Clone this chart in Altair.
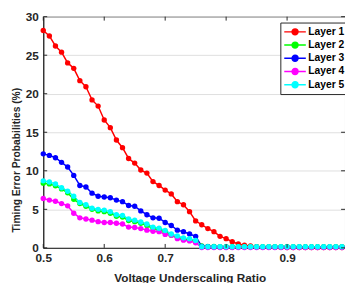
import altair as alt
import pandas as pd

ratios = [round(0.50 + 0.01 * i, 2) for i in range(50)]

layer1 = [28.2, 27.5, 26.2, 25.4, 24.0, 23.3, 21.7, 20.9, 19.2, 18.4,
          16.6, 15.6, 14.0, 13.0, 11.6, 11.0, 10.1, 9.7, 8.6, 8.1,
          7.5, 7.0, 6.0, 5.6, 4.7, 3.5, 3.0, 2.5, 2.1, 1.5,
          1.2, 0.8, 0.5, 0.35, 0.25, 0.15, 0.1, 0.08, 0.07, 0.06,
          0.05, 0.05, 0.05, 0.05, 0.05, 0.05, 0.05, 0.05, 0.05, 0.05]
layer2 = [8.4, 8.3, 8.05, 7.65, 7.15, 6.3, 5.75, 5.4, 5.0, 4.8,
          4.7, 4.5, 4.1, 4.0, 3.55, 3.4, 3.2, 2.9, 2.5, 2.35,
          2.1, 1.65, 1.4, 1.15, 1.05, 0.8, 0.25, 0.2, 0.18, 0.15,
          0.15, 0.15, 0.15, 0.15, 0.15, 0.15, 0.15, 0.15, 0.15, 0.15,
          0.15, 0.15, 0.15, 0.15, 0.15, 0.15, 0.15, 0.15, 0.15, 0.15]
layer3 = [12.2, 12.0, 11.7, 11.1, 10.5, 9.4, 8.1, 7.9, 7.1, 6.7,
          6.6, 6.5, 6.2, 6.0, 5.5, 5.4, 4.8, 4.3, 3.9, 3.85,
          3.3, 2.9, 2.3, 2.1, 1.8, 1.5, 0.2, 0.15, 0.12, 0.1,
          0.1, 0.1, 0.1, 0.1, 0.1, 0.1, 0.1, 0.1, 0.1, 0.1,
          0.1, 0.1, 0.1, 0.1, 0.1, 0.1, 0.1, 0.1, 0.1, 0.1]
layer4 = [6.4, 6.2, 6.05, 5.75, 5.45, 4.5, 3.9, 3.75, 3.6, 3.4,
          3.3, 3.3, 3.2, 3.1, 2.7, 2.65, 2.5, 2.3, 2.15, 2.1,
          1.75, 1.65, 1.2, 1.0, 0.9, 0.65, 0.05, 0.05, 0.05, 0.05,
          0.05, 0.05, 0.05, 0.05, 0.05, 0.05, 0.05, 0.05, 0.05, 0.05,
          0.05, 0.05, 0.05, 0.05, 0.05, 0.05, 0.05, 0.05, 0.05, 0.05]
layer5 = [8.7, 8.55, 8.3, 7.8, 7.35, 6.7, 5.9, 5.6, 5.15, 5.0,
          4.9, 4.7, 4.3, 4.2, 3.75, 3.6, 3.35, 3.1, 2.7, 2.55,
          2.25, 1.8, 1.55, 1.3, 1.2, 0.95, 0.15, 0.15, 0.15, 0.15,
          0.15, 0.15, 0.15, 0.15, 0.15, 0.15, 0.15, 0.15, 0.15, 0.15,
          0.15, 0.15, 0.15, 0.15, 0.15, 0.15, 0.15, 0.15, 0.15, 0.15]

layers = ["Layer 1", "Layer 2", "Layer 3", "Layer 4", "Layer 5"]
colors = ["#ff0000", "#00ff00", "#0000ff", "#ff00ff", "#00ffff"]
x_ticks = [0.5, 0.6, 0.7, 0.8, 0.9]
y_ticks = [0, 5, 10, 15, 20, 25, 30]

rows = []
for k, (name, vals) in enumerate(zip(layers, [layer1, layer2, layer3, layer4, layer5])):
    for r, v in zip(ratios, vals):
        rows.append({"ratio": r, "prob": v, "layer": name, "k": k})
df = pd.DataFrame(rows)

W, H = 308, 236
FONT = "Liberation Sans"
INK = "#262626"
xscale = alt.Scale(domain=[0.5, 0.995], nice=False, zero=False)
yscale = alt.Scale(domain=[0, 30], nice=False)

x_axis = alt.Axis(values=x_ticks, format=".1f", title="Voltage Underscaling Ratio",
                  grid=False, tickSize=0, labelPadding=5, titlePadding=9, titleX=149.5,
                  labelFlush=False, labelOverlap=False, titleFontSize=12)
y_axis = alt.Axis(values=y_ticks, title="Timing Error Probabilities (%)", grid=True,
                  tickSize=0, labelPadding=5, titleX=-22, titleY=146,
                  labelFlush=False, labelOverlap=False, titleFontSize=10.5)

legend_path = "M-1,0H3M0.45,0A0.55,0.55,0,1,1,1.55,0A0.55,0.55,0,1,1,0.45,0Z"

lines = alt.Chart(df).mark_line(
    strokeWidth=1.5,
    point=alt.OverlayMarkDef(filled=True, size=30, opacity=1),
).encode(
    x=alt.X("ratio:Q", scale=xscale, axis=x_axis),
    y=alt.Y("prob:Q", scale=yscale, axis=y_axis),
    color=alt.Color("layer:N", scale=alt.Scale(domain=layers, range=colors),
                    legend=alt.Legend(title=None, orient="none", legendX=242, legendY=6,
                                      symbolType=legend_path, symbolSize=121,
                                      symbolStrokeWidth=1.5, labelFontSize=10.5,
                                      labelFontWeight="bold", labelFont=FONT, labelColor="black",
                                      padding=3, strokeColor=INK, fillColor="white",
                                      rowPadding=0.5, labelOffset=12.5, symbolOpacity=1)),
    order=alt.Order("k:Q"),
)

tx = pd.DataFrame({"ratio": x_ticks})
ty = pd.DataFrame({"prob": y_ticks})
tick_top = alt.Chart(tx).mark_rule(color=INK).encode(
    x=alt.X("ratio:Q", scale=xscale, axis=x_axis), y=alt.value(0), y2=alt.value(4))
tick_bot = alt.Chart(tx).mark_rule(color=INK).encode(
    x=alt.X("ratio:Q", scale=xscale, axis=x_axis), y=alt.value(H), y2=alt.value(H - 4))
tick_left = alt.Chart(ty).mark_rule(color=INK).encode(
    y=alt.Y("prob:Q", scale=yscale, axis=y_axis), x=alt.value(0), x2=alt.value(4))
tick_right = alt.Chart(ty).mark_rule(color=INK).encode(
    y=alt.Y("prob:Q", scale=yscale, axis=y_axis), x=alt.value(W), x2=alt.value(W - 4))

chart = alt.layer(lines, tick_top, tick_bot, tick_left, tick_right).properties(
    width=W, height=H,
    padding={"left": 36, "top": 6, "right": 0, "bottom": 33},
    autosize=alt.AutoSizeParams(type="none"),
).configure_view(
    stroke=INK, strokeWidth=1
).configure_axis(
    labelFont=FONT, labelFontWeight="bold", labelFontSize=12, labelColor=INK,
    titleFont=FONT, titleFontWeight="bold", titleColor=INK,
    domainColor=INK, gridColor="#dedede", gridWidth=1
)

chart.save("out.html", embed_options={"renderer": "svg", "actions": False})
